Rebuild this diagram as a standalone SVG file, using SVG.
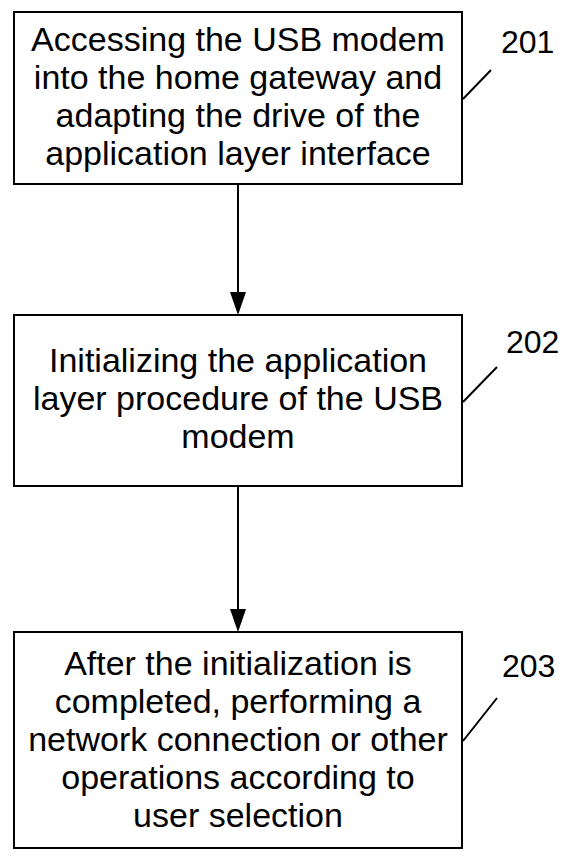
<svg xmlns="http://www.w3.org/2000/svg" width="567" height="857" viewBox="0 0 567 857">
<defs>
<style>
.box{fill:#fff;stroke:#000;stroke-width:2}
.t{font-family:"Liberation Sans",Arial,sans-serif;font-size:34px;fill:#000;text-anchor:middle}
.n{font-family:"Liberation Sans",Arial,sans-serif;font-size:32px;fill:#000}
.ln{fill:none;stroke:#000;stroke-width:2}
.ah{fill:#000}
</style>
</defs>
<rect width="567" height="857" fill="#fff"/>
<g id="connectors">
<line class="ln" x1="238" y1="184" x2="238" y2="295"/>
<path class="ah" d="M230,292 L246,292 L238,315 Z"/>
<line class="ln" x1="238" y1="486" x2="238" y2="612"/>
<path class="ah" d="M230,609 L246,609 L238,632 Z"/>
</g>
<g id="node201">
<rect class="box" x="14" y="12" width="448" height="172"/>
<text class="t" x="238" y="51">Accessing the USB modem</text>
<text class="t" x="238" y="89">into the home gateway and</text>
<text class="t" x="238" y="127">adapting the drive of the</text>
<text class="t" x="238" y="165">application layer interface</text>
<line class="ln" x1="463" y1="99" x2="491" y2="70"/>
<text class="n" x="501" y="53">201</text>
</g>
<g id="node202">
<rect class="box" x="14" y="315" width="448" height="171"/>
<text class="t" x="238" y="372">Initializing the application</text>
<text class="t" x="238" y="410">layer procedure of the USB</text>
<text class="t" x="238" y="448">modem</text>
<line class="ln" x1="463" y1="402" x2="497" y2="367"/>
<text class="n" x="506" y="353">202</text>
</g>
<g id="node203">
<rect class="box" x="14" y="632" width="448" height="216"/>
<text class="t" x="238" y="675">After the initialization is</text>
<text class="t" x="238" y="713">completed, performing a</text>
<text class="t" x="238" y="751">network connection or other</text>
<text class="t" x="238" y="789">operations according to</text>
<text class="t" x="238" y="827">user selection</text>
<line class="ln" x1="463" y1="741" x2="497" y2="698"/>
<text class="n" x="502" y="677">203</text>
</g>
</svg>
